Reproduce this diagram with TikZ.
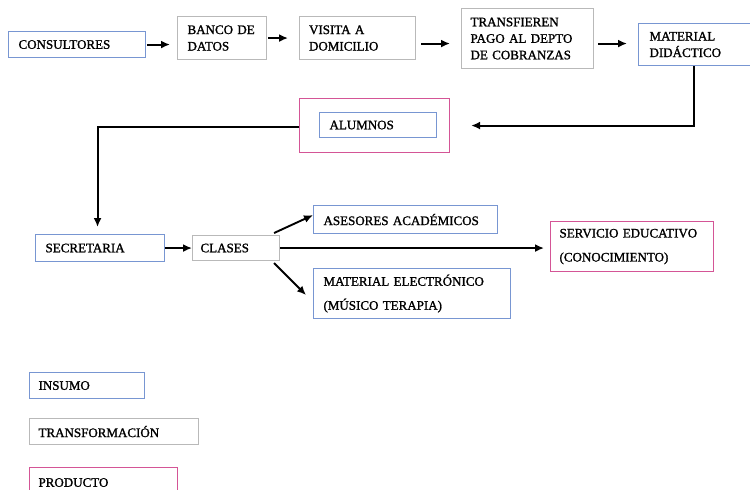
\documentclass[tikz,border=0pt]{standalone}
\usepackage{fontspec}
\setmainfont{Liberation Serif}
\newfontfamily\boxfont{Liberation Serif}[FakeBold=1.3]
\usetikzlibrary{arrows.meta}

\definecolor{insumoblue}{RGB}{120,150,210}
\definecolor{transfgray}{RGB}{185,185,185}
\definecolor{prodpink}{RGB}{212,85,150}

\tikzset{
  bx/.style={draw, line width=1.1pt, fill=white, anchor=north west,
    inner xsep=10pt, inner ysep=0pt, align=left,
    font=\boxfont\fontsize{13}{16.5}\selectfont},
  insumo/.style={bx, draw=insumoblue},
  transfbox/.style={bx, draw=transfgray},
  producto/.style={bx, draw=prodpink},
  arr/.style={-{Latex[length=9pt,width=8pt]}, line width=1.9pt, black}
}

\begin{document}
\begin{tikzpicture}[x=1pt,y=-1pt]
  \fill[white] (0,0) rectangle (750,490);
  \useasboundingbox (0,0) rectangle (750,490);

  % upper chain
  \node[insumo, minimum width=137pt, minimum height=26pt, text width=117pt]
    (cons) at (8,31) {CONSULTORES};
  \node[transfbox, minimum width=89pt, minimum height=43pt, text width=69pt]
    (banco) at (177,16) {BANCO DE\\DATOS};
  \node[transfbox, minimum width=116pt, minimum height=43pt, text width=97pt, inner xsep=9.5pt]
    (visita) at (299,16) {VISITA A\\DOMICILIO};
  \node[transfbox, minimum width=132pt, minimum height=60pt, text width=114pt, inner xsep=9pt]
    (transf) at (461,8) {TRANSFIEREN\\PAGO AL DEPTO\\DE COBRANZAS};
  \node[insumo, minimum width=113pt, minimum height=42pt, text width=91pt, inner xsep=11pt]
    (matdid) at (638,23) {MATERIAL\\DIDÁCTICO};

  % students
  \node[producto, minimum width=150pt, minimum height=54pt] (alumnosP) at (299,98) {};
  \node[insumo, minimum width=117pt, minimum height=25pt, text width=97pt]
    (alumnos) at (319,112) {ALUMNOS};

  % lower chain
  \node[insumo, minimum width=129pt, minimum height=27pt, text width=109pt]
    (secretaria) at (35,234) {SECRETARIA};
  \node[transfbox, minimum width=87pt, minimum height=25pt, text width=71pt, inner xsep=8pt]
    (clases) at (192,235) {CLASES};
  \node[insumo, minimum width=184pt, minimum height=28pt, text width=164pt]
    (asesores) at (313,205) {ASESORES ACADÉMICOS};
  \node[insumo, minimum width=197pt, minimum height=50pt, text width=177pt]
    (matel) at (313,268) {MATERIAL ELECTRÓNICO\\[7.5pt](MÚSICO TERAPIA)};
  \node[producto, minimum width=163pt, minimum height=50pt, text width=145pt, inner xsep=9pt]
    (servicio) at (550,221) {SERVICIO EDUCATIVO\\[7.5pt](CONOCIMIENTO)};

  % legend
  \node[insumo, minimum width=115pt, minimum height=26pt, text width=97pt, inner xsep=9pt]
    (legInsumo) at (29,372) {INSUMO};
  \node[transfbox, minimum width=169pt, minimum height=26pt, text width=151pt, inner xsep=9pt]
    (legTransf) at (29,418) {TRANSFORMACIÓN};
  \node[producto, minimum width=148pt, minimum height=30pt, text width=130pt, inner xsep=9pt]
    (legProd) at (29,467) {PRODUCTO};

  % connectors
  \draw[arr] ([xshift=1pt]cons.east) -- ([xshift=-7pt]cons.east -| banco.west);
  \draw[arr] ([xshift=1pt]banco.east) -- ([xshift=-11pt]visita.west);
  \draw[arr] ([xshift=5pt,yshift=-5.5pt]visita.east) -- ([xshift=-11pt,yshift=-5pt]transf.west);
  \draw[arr] ([xshift=4pt,yshift=-5pt]transf.east) -- ([xshift=-11pt,yshift=1pt]matdid.west);
  \draw[arr] ([xshift=-1.5pt]matdid.south) |- ([xshift=21pt]alumnosP.east);
  \draw[arr] ([yshift=-1pt]alumnosP.west) -| ([xshift=-2.5pt,yshift=7pt]secretaria.north);
  \draw[arr] (secretaria.east) -- (clases.west);
  \draw[arr] ([xshift=-6pt,yshift=2pt]clases.north east) -- ([yshift=19pt]asesores.south west);
  \draw[arr] (clases.east) -- ([xshift=-6pt]clases.east -| servicio.west);
  \draw[arr] ([xshift=-6pt,yshift=-2pt]clases.south east) -- ([xshift=-7pt,yshift=-27pt]matel.north west);
\end{tikzpicture}
\end{document}
